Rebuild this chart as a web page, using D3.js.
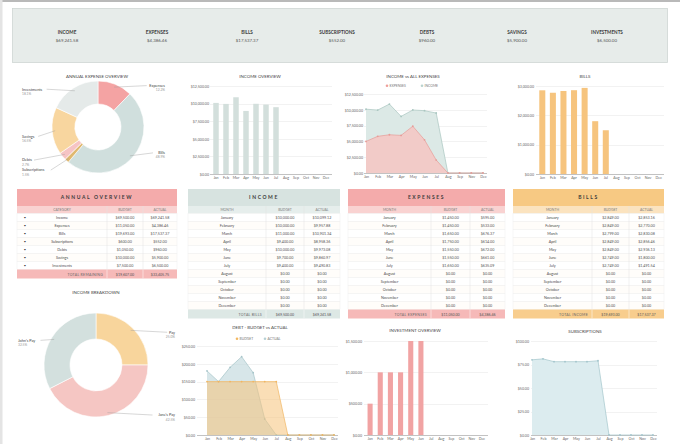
<!DOCTYPE html>
<html><head><meta charset="utf-8">
<script src="https://cdn.jsdelivr.net/npm/d3@7"></script>
<style>
body{margin:0;background:#fff;}
svg{display:block;font-family:Lato,"Open Sans",sans-serif;}
</style></head>
<body><svg id="c" width="680" height="444"></svg>
<script>
// ---------- DATA ----------
const months = ["Jan","Feb","Mar","Apr","May","Jun","Jul","Aug","Sep","Oct","Nov","Dec"];
const monthNames = ["January","February","March","April","May","June","July","August","September","October","November","December"];
// the "income vs all expenses" chart has no October category
const ivxMonths = ["Jan","Feb","Mar","Apr","May","Jun","Jul","Aug","Sep","Nov","Dec"];

const summaryLabels = ["INCOME","EXPENSES","BILLS","SUBSCRIPTIONS","DEBTS","SAVINGS","INVESTMENTS"];
const summaryValues = [69241.58, 4386.46, 17537.37, 552.00, 960.00, 5900.00, 6500.00];

const expenseCats = ["Expenses","Bills","Subscriptions","Debts","Savings","Investments"];
const expenseShares = [12.2, 48.9, 1.5, 2.7, 16.5, 18.1];

const incomeSources = ["Pay","Jane's Pay","John's Pay"];
const incomeShares = [25.0, 42.5, 32.5];

const incomeActual = [10099.12, 9957.88, 10901.34, 8958.36, 9973.08, 9860.97, 9490.83, 0, 0, 0, 0, 0];
const incomeBudget = [10000, 10000, 11000, 9400, 10000, 9700, 9400, 0, 0, 0, 0, 0];
const ivxIncome   = [10099.12, 9957.88, 10901.34, 8958.36, 9973.08, 9860.97, 9490.83, 0, 0, 0, 0];
const ivxExpenses = [5000, 5800, 6050, 5950, 7400, 5250, 2050, 0, 0, 0, 0];
const expensesBudget = [1450, 1450, 1650, 1750, 1550, 1550, 1650, 0, 0, 0, 0, 0];
const expensesActual = [595.00, 533.00, 676.37, 614.00, 672.00, 661.00, 635.09, 0, 0, 0, 0, 0];
const billsBudget = [2849, 2849, 2799, 2849, 2849, 2749, 2749, 0, 0, 0, 0, 0];
const billsActual = [2853.16, 2770.00, 2830.08, 2856.46, 2936.13, 1800.00, 1491.54, 0, 0, 0, 0, 0];
const debtBudget = [150, 150, 150, 150, 150, 150, 150, 0, 0, 0, 0, 0];
const debtActual = [180, 150, 190, 220, 175, 45, 0, 0, 0, 0, 0, 0];
const investments = [500, 1000, 1000, 1000, 1500, 1500, 0, 0, 0, 0, 0, 0];
const subscriptions = [80, 81, 78, 78, 78, 78, 79, 0, 0, 0, 0, 0];

const annualCats = ["Income","Expenses","Bills","Subscriptions","Debts","Savings","Investments"];
const annualBudget = [69500, 11050, 19693, 600, 1050, 10000, 7500];
const annualActual = [69241.58, 4386.46, 17537.37, 552.00, 960.00, 5900.00, 6500.00];
const remainingTotals = [19607.00, 33405.75];
const incomeTotals = [69500.00, 69241.58];
const expenseTotals = [11050.00, 4386.46];
const billTotals = [19693.00, 17537.37];

const incomeTicks = [0, 2500, 5000, 7500, 10000, 12500];
const billTicks = [0, 1000, 2000, 3000];
const debtTicks = [0, 50, 100, 150, 200, 250];
const investTicks = [0, 500, 1000, 1500];
const subTicks = [0, 25, 50, 75, 100];

// ---------- HELPERS ----------
const svg = d3.select("#c");
const fmt = d3.format("$,.2f");
const FONT = "Lato, 'Open Sans', sans-serif";

svg.append("rect").attr("width",680).attr("height",444).attr("fill","#fff");
svg.append("rect").attr("width",680).attr("height",2).attr("fill","#b9b9b9");
svg.append("rect").attr("width",2.5).attr("height",444).attr("fill","#e4e4e4");

function txt(g,x,y,s,o={}){
  return g.append("text").attr("x",x).attr("y",y).text(s)
    .attr("font-size",o.size||4).attr("fill",o.fill||"#555")
    .attr("text-anchor",o.anchor||"middle")
    .attr("font-weight",o.weight||"normal")
    .attr("letter-spacing",o.ls||0);
}

function yAxis(g, y, ticks, lx, gx0, gx1){
  g.append("g").selectAll("line").data(ticks).join("line")
    .attr("x1",gx0).attr("x2",gx1)
    .attr("y1",d=>Math.round(y(d))+0.5).attr("y2",d=>Math.round(y(d))+0.5)
    .attr("stroke",d=>d===0?"#a8a8a8":"#ececec").attr("stroke-width",0.7);
  const a = g.append("g").attr("transform",`translate(${lx},0)`)
    .call(d3.axisLeft(y).tickValues(ticks).tickSize(0).tickPadding(0).tickFormat(fmt));
  a.select(".domain").remove();
  a.attr("font-size",3.6).attr("font-family",FONT);
  a.selectAll("text").attr("fill","#666").attr("dy","0.35em");
}
function xAxis(g, x, yb){
  const a = g.append("g").attr("transform",`translate(0,${yb})`)
    .call(d3.axisBottom(x).tickSize(0).tickPadding(2.5));
  a.select(".domain").remove();
  a.attr("font-size",3.6).attr("font-family",FONT);
  a.selectAll("text").attr("fill","#666");
}

function barChart(o){
  const g = svg.append("g");
  const x = d3.scaleBand().domain(months).range([o.x0,o.x1]).paddingInner(o.pad).paddingOuter(o.pad/2);
  const y = d3.scaleLinear().domain([0,o.max]).range([o.yb,o.yt]);
  yAxis(g,y,o.ticks,o.lx,o.gx0,o.gx1);
  g.append("g").selectAll("rect").data(o.values).join("rect")
    .attr("x",(d,i)=>x(months[i])).attr("width",x.bandwidth())
    .attr("y",d=>y(d)).attr("height",d=>y(0)-y(d)).attr("fill",o.color);
  xAxis(g,x,o.yb);
  txt(g,o.tx,o.ty,o.title,{size:4.4,fill:"#444"});
}

function areaChart(o){
  const g = svg.append("g");
  const cats = o.cats || months;
  const x = d3.scalePoint().domain(cats).range([o.x0,o.x1]);
  const y = d3.scaleLinear().domain([0,o.max]).range([o.yb,o.yt]);
  yAxis(g,y,o.ticks,o.lx,o.gx0,o.gx1);
  o.series.forEach(s=>{
    const area = d3.area().x((d,i)=>x(cats[i])).y0(y(0)).y1(d=>y(d));
    const line = d3.line().x((d,i)=>x(cats[i])).y(d=>y(d));
    g.append("path").datum(s.values).attr("d",area).attr("fill",s.fill).attr("fill-opacity",s.op||1);
    g.append("path").datum(s.values).attr("d",line).attr("fill","none").attr("stroke",s.stroke).attr("stroke-width",0.7);
    g.append("g").selectAll("circle").data(s.values).join("circle")
      .attr("cx",(d,i)=>x(cats[i])).attr("cy",d=>y(d)).attr("r",0.9).attr("fill",s.stroke);
  });
  xAxis(g,x,o.yb);
  txt(g,o.tx,o.ty,o.title,{size:4.4,fill:"#444"});
  if(o.legend){
    o.legend.forEach(l=>{
      g.append("circle").attr("cx",l.x).attr("cy",o.ly-1.3).attr("r",1.3).attr("fill",l.color);
      txt(g,l.x+2.5,o.ly,l.label,{size:3.4,fill:"#777",anchor:"start"});
    });
  }
}

function donut(o){
  const g = svg.append("g");
  const pie = d3.pie().sort(null).value(d=>d)(o.values);
  const arc = d3.arc().innerRadius(o.ri).outerRadius(o.ro);
  g.append("g").attr("transform",`translate(${o.cx},${o.cy})`)
    .selectAll("path").data(pie).join("path").attr("d",arc)
    .attr("fill",(d,i)=>o.colors[i]).attr("stroke","#fff").attr("stroke-width",0.6);
  txt(g,o.tx,o.ty,o.title,{size:4.4,fill:"#444"});
  const labs = pie.map((d,i)=>{
    const a=(d.startAngle+d.endAngle)/2;
    const px=o.cx+Math.sin(a)*(o.ro-3), py=o.cy-Math.cos(a)*(o.ro-3);
    const right = Math.sin(a)>0;
    return {i,a,px,py,right,ly:o.cy-Math.cos(a)*(o.ro+8)+(o.dy?o.dy[i]:0)};
  });
  [true,false].forEach(side=>{
    const arr = labs.filter(l=>l.right===side).sort((a,b)=>a.ly-b.ly);
    for(let k=1;k<arr.length;k++){ if(arr[k].ly-arr[k-1].ly<10) arr[k].ly=arr[k-1].ly+10; }
  });
  labs.forEach(l=>{
    const lx = l.right? o.rx : o.lx;
    const tw = o.names[l.i].length*2.1;
    const ex = l.right? lx - tw - 1.5 : lx + tw + 1.5;
    g.append("polyline").attr("points",`${l.px},${l.py} ${ex},${l.ly-1.3} `)
      .attr("fill","none").attr("stroke","#999").attr("stroke-width",0.4);
    txt(g,lx,l.ly,o.names[l.i],{size:3.8,fill:"#444",anchor:l.right?"end":"start"});
    txt(g,lx,l.ly+4.3,o.values[l.i].toFixed(1)+"%",{size:3.3,fill:"#999",anchor:l.right?"end":"start"});
  });
}

function table(o){
  const g = svg.append("g");
  const [x0,d1,d2,x1] = o.xs;
  const hh=17, sh=7.5, rh=8;
  let y=o.y;
  g.append("rect").attr("x",x0).attr("y",y).attr("width",x1-x0).attr("height",hh).attr("fill",o.head);
  txt(g,(x0+x1)/2,y+hh/2+1.8,o.title,{size:5,weight:"bold",fill:"#3b3b3b",ls:1.6});
  y+=hh;
  g.append("rect").attr("x",x0).attr("y",y).attr("width",x1-x0).attr("height",sh).attr("fill",o.sub);
  const cx=[(x0+d1)/2,(d1+d2)/2,(d2+x1)/2];
  [o.firstCol,"BUDGET","ACTUAL"].forEach((s,k)=>txt(g,cx[k],y+sh/2+1.3,s,{size:3.4,fill:"#7a7a7a"}));
  y+=sh;
  o.rows.forEach((r,i)=>{
    g.append("rect").attr("x",x0).attr("y",y).attr("width",x1-x0).attr("height",rh)
      .attr("fill",i%2? "#fffdfa":"#ffffff").attr("stroke","#ececec").attr("stroke-width",0.4);
    if(o.bullet) txt(g,x0+8,y+rh/2+1.4,"•",{size:4,fill:"#444"});
    txt(g,cx[0],y+rh/2+1.4,r[0],{size:3.7,fill:"#4a4a4a"});
    txt(g,cx[1],y+rh/2+1.4,fmt(r[1]),{size:3.7,fill:"#555"});
    txt(g,cx[2],y+rh/2+1.4,fmt(r[2]),{size:3.7,fill:"#555"});
    y+=rh;
  });
  [d1,d2].forEach(d=>g.append("line").attr("x1",d).attr("x2",d).attr("y1",o.y+hh).attr("y2",y+9)
    .attr("stroke","#e2e2e2").attr("stroke-width",0.5));
  g.append("rect").attr("x",x0).attr("y",y).attr("width",x1-x0).attr("height",9).attr("fill",o.total);
  txt(g,d1-4,y+6,o.totalLabel,{size:3.5,fill:"#666",anchor:"end",ls:0.3});
  txt(g,cx[1],y+6,fmt(o.totals[0]),{size:3.6,fill:"#555"});
  txt(g,cx[2],y+6,fmt(o.totals[1]),{size:3.6,fill:"#555"});
  [d1,d2].forEach(d=>g.append("line").attr("x1",d).attr("x2",d).attr("y1",y).attr("y2",y+9)
    .attr("stroke","#fff").attr("stroke-width",0.5));
}

// ---------- HEADER ----------
const hg = svg.append("g");
hg.append("rect").attr("x",12.5).attr("y",8.5).attr("width",655).attr("height",54)
  .attr("fill","#e7ecea").attr("stroke","#cfd6d4").attr("stroke-width",0.8);
const hx = d3.scalePoint().domain(summaryLabels).range([67,607]);
summaryLabels.forEach((l,i)=>{
  txt(hg,hx(l),34,l,{size:4.6,weight:"bold",fill:"#3a3a3a"});
  txt(hg,hx(l),42,fmt(summaryValues[i]),{size:4.4,fill:"#555"});
});

// ---------- ROW 1 ----------
donut({cx:98,cy:127,ro:46,ri:23,values:expenseShares,names:expenseCats,
  colors:["#f4a3a3","#d0dfdd","#dfb86f","#f6c4c4","#f8d69f","#e5eae9"],
  dy:[10,-9,3,0,6,9],
  title:"ANNUAL EXPENSE OVERVIEW",tx:97,ty:78,lx:22,rx:165});

barChart({values:incomeActual,max:12500,ticks:incomeTicks,x0:211,x1:331,pad:0.45,yt:86,yb:174,
  lx:209,gx0:210,gx1:332,color:"#d3dfdc",title:"INCOME OVERVIEW",tx:260,ty:78});

areaChart({cats:ivxMonths,x0:366,x1:483,yt:94,yb:173,max:12500,ticks:incomeTicks,lx:363,gx0:364,gx1:487,
  series:[{values:ivxIncome,fill:"#dce9e6",stroke:"#a9c6c0"},
          {values:ivxExpenses,fill:"#f4c8c4",stroke:"#e79c98",op:0.9}],
  title:"INCOME vs ALL EXPENSES",tx:413,ty:78,ly:87,
  legend:[{x:387,label:"EXPENSES",color:"#ee9f9b"},{x:422,label:"INCOME",color:"#b9d3ce"}]});

barChart({values:billsActual,max:3000,ticks:billTicks,x0:537,x1:664,pad:0.43,yt:86,yb:174,
  lx:534,gx0:536,gx1:664,color:"#f6c47e",title:"BILLS",tx:585,ty:78});

// ---------- TABLES ----------
table({xs:[17,107,143,177],y:189,title:"ANNUAL OVERVIEW",head:"#f4abab",sub:"#f9d2d1",total:"#f6b9b8",
  firstCol:"CATEGORY",bullet:true,rows:annualCats.map((c,i)=>[c,annualBudget[i],annualActual[i]]),
  totalLabel:"TOTAL REMAINING",totals:remainingTotals});
table({xs:[188,266,304,340],y:189,title:"INCOME",head:"#d7e3e0",sub:"#e6eeec",total:"#dde8e5",
  firstCol:"MONTH",rows:monthNames.map((m,i)=>[m,incomeBudget[i],incomeActual[i]]),
  totalLabel:"TOTAL BILLS",totals:incomeTotals});
table({xs:[348,431,470,505],y:189,title:"EXPENSES",head:"#f4abab",sub:"#f9d2d1",total:"#f6b9b8",
  firstCol:"MONTH",rows:monthNames.map((m,i)=>[m,expensesBudget[i],expensesActual[i]]),
  totalLabel:"TOTAL EXPENSES",totals:expenseTotals});
table({xs:[513,592,629,664],y:189,title:"BILLS",head:"#f7c983",sub:"#fbe3bf",total:"#f8cd8d",
  firstCol:"MONTH",rows:monthNames.map((m,i)=>[m,billsBudget[i],billsActual[i]]),
  totalLabel:"TOTAL INCOME",totals:billTotals});

// ---------- ROW 3 ----------
donut({cx:96,cy:365,ro:52,ri:26,values:incomeShares,names:incomeSources,
  colors:["#f8d59c","#f5c6c3","#d3e0de"],dy:[11,-7,8],
  title:"INCOME BREAKDOWN",tx:96,ty:294,lx:18,rx:175});

areaChart({x0:207,x1:334,yt:346,yb:435,max:250,ticks:debtTicks,lx:195,gx0:197,gx1:338,
  series:[{values:debtActual,fill:"#bcd6da",stroke:"#a6c4c9",op:0.6},
          {values:debtBudget,fill:"#f6c27a",stroke:"#f0b663",op:0.55}],
  title:"DEBT - BUDGET vs ACTUAL",tx:260,ty:329,ly:340,
  legend:[{x:237,label:"BUDGET",color:"#f3b860"},{x:265,label:"ACTUAL",color:"#b6d0d5"}]});

barChart({values:investments,max:1500,ticks:investTicks,x0:365,x1:487,pad:0.5,yt:341,yb:435,
  lx:362,gx0:364,gx1:488,color:"#f1a3a3",title:"INVESTMENT OVERVIEW",tx:415,ty:332});

areaChart({x0:532,x1:653,yt:341,yb:435,max:100,ticks:subTicks,lx:529,gx0:531,gx1:657,
  series:[{values:subscriptions,fill:"#dcecef",stroke:"#a3c5cc"}],
  title:"SUBSCRIPTIONS",tx:585,ty:333});
</script></body></html>
